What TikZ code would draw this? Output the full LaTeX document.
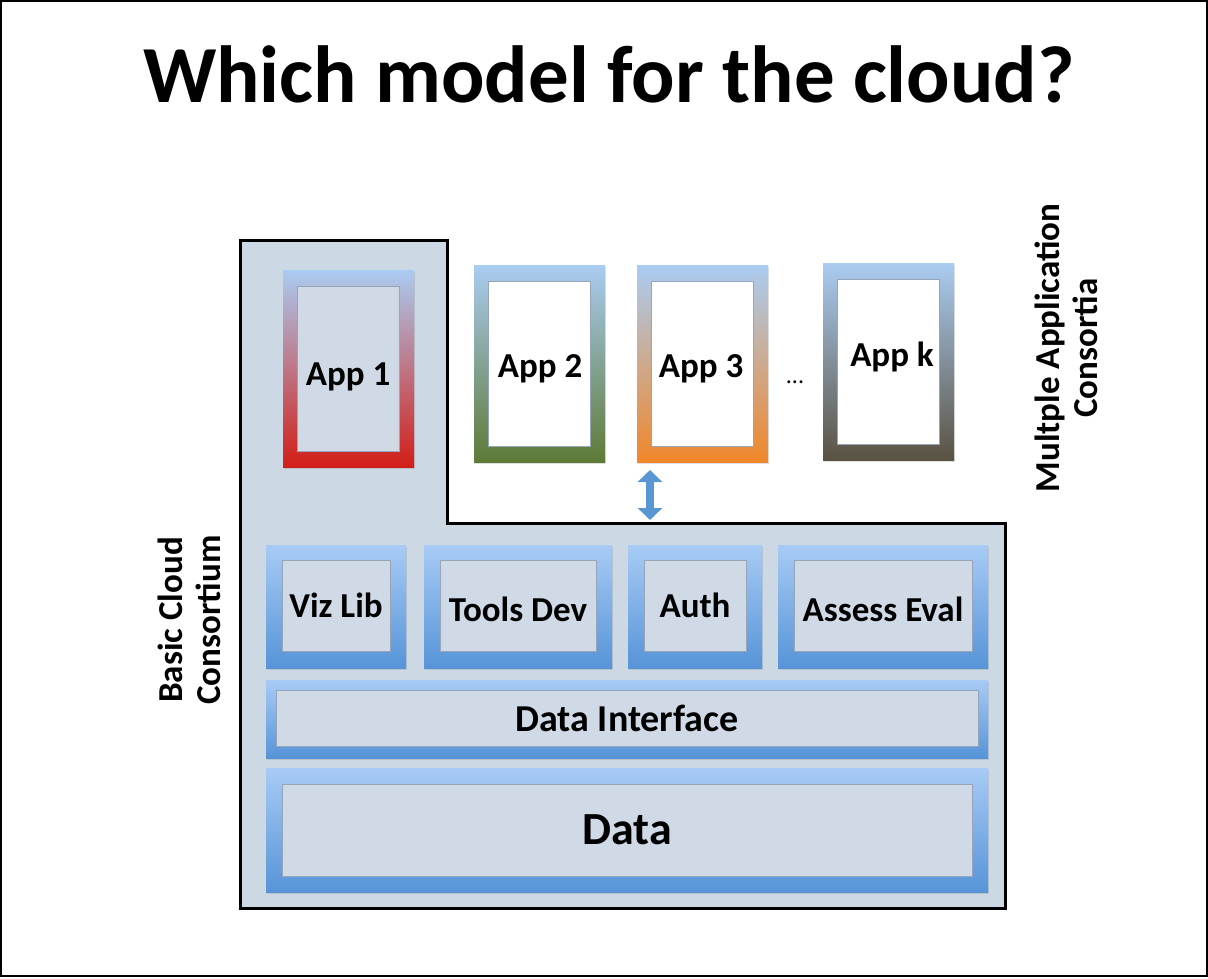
\documentclass[tikz,border=0pt]{standalone}
\usepackage{fontspec}
\setmainfont{Carlito}
\usetikzlibrary{arrows.meta,shadows}

\definecolor{cloudbg}{RGB}{205,216,229}
\definecolor{innerfill}{RGB}{208,218,230}
\definecolor{innerline}{RGB}{150,165,185}
\definecolor{frametop}{RGB}{168,203,245}
\definecolor{framebot}{RGB}{86,148,216}
\definecolor{apptop}{RGB}{170,204,242}
\definecolor{appred}{RGB}{210,30,24}
\definecolor{appgreen}{RGB}{94,122,54}
\definecolor{apporange}{RGB}{240,135,42}
\definecolor{appbrown}{RGB}{90,82,66}
\definecolor{arrowblue}{RGB}{88,150,212}

\tikzset{
  frame/.style={top color=frametop, bottom color=framebot, inner sep=0pt,
    drop shadow={opacity=0.25, shadow xshift=1pt, shadow yshift=-2pt}},
  appframe/.style={top color=apptop, bottom color=#1, inner sep=0pt,
    drop shadow={opacity=0.25, shadow xshift=1pt, shadow yshift=-2pt}},
  inbox/.style={fill=innerfill, draw=innerline, line width=0.8pt, inner sep=0pt},
  appbox/.style={fill=white, draw=innerline, line width=0.8pt, inner sep=0pt},
  lbl/.style={font=\fontsize{35}{40}\selectfont\bfseries},
  sidelbl/.style={font=\fontsize{35}{38}\selectfont\bfseries, align=center, rotate=90},
}

\begin{document}
\begin{tikzpicture}[x=1pt, y=1pt]
    \useasboundingbox (0,0) rectangle (1208,-978);
    \draw[line width=2pt] (1,-1) rectangle (1207,-976);

    \node[font=\fontsize{81}{90}\selectfont\bfseries] (title) at (609,-74)
    {Which model for the cloud?};

    % basic consortium area
    \draw[fill=cloudbg, line width=3pt] (240,-240) -- (447,-240) -- (447,-523)
        -- (1005,-523) -- (1005,-908) -- (240,-908) -- cycle;

    % applications
    \node[appframe=appred, minimum width=131, minimum height=197] (app1) at (348.5,-368.5) {};
    \node[inbox, minimum width=102, minimum height=165] (app1in) at (app1) {};
    \node[appframe=appgreen, minimum width=131, minimum height=197] (app2) at (539.5,-363.5) {};
    \node[appbox, minimum width=102, minimum height=165] (app2in) at (app2) {};
    \node[appframe=apporange, minimum width=131, minimum height=197] (app3) at (702.5,-363.5) {};
    \node[appbox, minimum width=102, minimum height=165] (app3in) at (app3) {};
    \node[appframe=appbrown, minimum width=131, minimum height=197] (appk) at (888.5,-361.5) {};
    \node[appbox, minimum width=102, minimum height=165] (appkin) at (appk) {};

    \node[lbl] (app1lbl) at (348,-377) {App 1};
    \node[lbl] (app2lbl) at (540,-369) {App 2};
    \node[lbl] (app3lbl) at (701,-369) {App 3};
    \node[lbl] (appklbl) at (892,-357) {App k};
    \node[font=\fontsize{24}{28}\selectfont] (dots) at (795,-382) {...};

    % link between app layer and platform
    \coordinate (linkup) at (650,-470);
    \coordinate (linkdn) at (650,-520);
    \draw[arrowblue, line width=8pt, {Triangle[width=24pt,length=12pt]}-{Triangle[width=24pt,length=12pt]}]
        (linkup) -- (linkdn);

    % services
    \node[frame, minimum width=140, minimum height=123] (viz) at (336,-606.5) {};
    \node[inbox, minimum width=108, minimum height=91] (vizin) at (336,-605.5) {};
    \node[frame, minimum width=188, minimum height=123] (tools) at (518,-606.5) {};
    \node[inbox, minimum width=156, minimum height=91] (toolsin) at (518,-605.5) {};
    \node[frame, minimum width=134, minimum height=123] (auth) at (695,-606.5) {};
    \node[inbox, minimum width=102, minimum height=91] (authin) at (695,-605.5) {};
    \node[frame, minimum width=210, minimum height=123] (assess) at (883,-606.5) {};
    \node[inbox, minimum width=178, minimum height=91] (assessin) at (883,-605.5) {};

    \node[lbl] (vizlbl) at (336,-605) {Viz Lib};
    \node[lbl] (toolslbl) at (518,-609) {Tools Dev};
    \node[lbl] (authlbl) at (695,-605) {Auth};
    \node[lbl] (assesslbl) at (883,-609) {Assess Eval};

    % data layers
    \node[frame, minimum width=722, minimum height=78] (dif) at (627,-719) {};
    \node[inbox, minimum width=702, minimum height=56,
          font=\fontsize{38}{44}\selectfont\bfseries] (difin) at (627,-718)
    {Data Interface};
    \node[frame, minimum width=722, minimum height=124] (data) at (627,-830) {};
    \node[inbox, minimum width=690, minimum height=92,
          font=\fontsize{46}{52}\selectfont\bfseries] (datain) at (627,-830) {Data};

    % side labels
    \node[sidelbl] (basic) at (189,-620) {Basic Cloud\\Consortium};
    \node[sidelbl] (multi) at (1066,-348) {Multple Application\\Consortia};
\end{tikzpicture}
\end{document}
